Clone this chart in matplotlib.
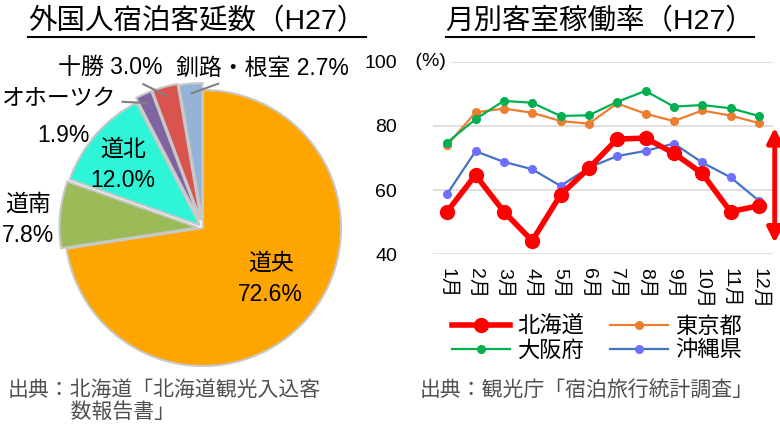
import matplotlib
matplotlib.use("Agg")
import matplotlib.pyplot as plt
from matplotlib.lines import Line2D
import numpy as np

plt.rcParams['font.family'] = ['Liberation Sans', 'Noto Sans CJK JP']

# ---- data ----
regions = ['道央', '道南', '道北', 'オホーツク', '十勝', '釧路・根室']
shares = [72.6, 7.8, 12.0, 1.9, 3.0, 2.7]
pie_colors = ['#FFA500', '#9BBB59', '#2EF5D8', '#8064A2', '#D9534F', '#95B3D7']

months = ['1月', '2月', '3月', '4月', '5月', '6月', '7月', '8月', '9月', '10月', '11月', '12月']
hokkaido = [53.3, 64.7, 53.3, 44.2, 58.5, 66.8, 75.9, 76.2, 71.5, 65.2, 53.3, 55.1]
tokyo = [74.0, 84.2, 85.4, 84.1, 81.5, 80.7, 87.0, 83.8, 81.5, 84.8, 83.2, 80.9]
osaka = [74.8, 82.1, 87.8, 87.2, 83.1, 83.3, 87.5, 90.9, 86.0, 86.5, 85.5, 83.1]
okinawa = [58.8, 72.1, 68.8, 66.5, 61.3, 67.0, 70.6, 72.2, 74.5, 68.6, 64.0, 56.7]
yticks = [40, 60, 80, 100]

W, H = 780, 424
fig = plt.figure(figsize=(W / 100, H / 100), dpi=100)

# ---- pie ----
cx, cy, R = 203, 228, 138
L = 1.087
side = 2 * L * R
axp = fig.add_axes([(cx - side / 2) / W, (H - cy - side / 2) / H, side / W, side / H])
explode = [0, 0.04, 0.03, 0.06, 0.06, 0.05]
wedges, _ = axp.pie(shares, colors=pie_colors, startangle=90, counterclock=False,
                    explode=explode, radius=1,
                    wedgeprops=dict(edgecolor='#C8C8C8', linewidth=1.5))
axp.set_xlim(-L, L)
axp.set_ylim(-L, L)
axp.set_aspect('equal')
axp.axis('off')

fs_pie = 16.5
axp.text(0.49, -0.37, '道央\n72.6%', ha='center', va='center', fontsize=fs_pie, linespacing=1.45)
axp.text(-0.58, 0.46, '道北\n12.0%', ha='center', va='center', fontsize=fs_pie, linespacing=1.45)
axp.text(-1.27, 0.06, '道南\n7.8%', ha='center', va='center', fontsize=fs_pie, linespacing=1.45,
         clip_on=False)
axp.text(-1.01, 0.67, '1.9%', ha='center', va='center', fontsize=fs_pie, clip_on=False)


def wedge_point(w, r):
    ang = np.deg2rad((w.theta1 + w.theta2) / 2)
    c = w.center
    return (c[0] + r * np.cos(ang), c[1] + r * np.sin(ang))


lbl_kw = dict(fontsize=fs_pie, va='center', annotation_clip=False,
              arrowprops=dict(arrowstyle='-', color='#808080', lw=1.5, shrinkA=3, shrinkB=0))
axp.annotate('オホーツク', xy=wedge_point(wedges[3], 0.93), xytext=(-1.05, 0.94), ha='center', **lbl_kw)
axp.annotate('十勝 3.0%', xy=wedge_point(wedges[4], 0.93), xytext=(-0.67, 1.16), ha='center', **lbl_kw)
axp.annotate('釧路・根室 2.7%', xy=wedge_point(wedges[5], 0.93), xytext=(0.43, 1.16), ha='center', **lbl_kw)

# ---- line chart ----
x0, x1 = 433, 773
ytop, ybot = 61.7, 254.3
axl = fig.add_axes([x0 / W, (H - ybot) / H, (x1 - x0) / W, (ybot - ytop) / H])
x = np.arange(1, len(months) + 1)
axl.plot(x, tokyo, color='#ED7D31', lw=1.6, marker='o', ms=5.5, label='東京都', zorder=3)
axl.plot(x, osaka, color='#00B050', lw=1.6, marker='o', ms=5.5, label='大阪府', zorder=3)
axl.plot(x, okinawa, color='#4472C4', lw=1.6, marker='o', ms=5.5, mfc='#6F6FFF', mec='#6F6FFF',
         label='沖縄県', zorder=3)
axl.plot(x, hokkaido, color='#FF0000', lw=4, marker='o', ms=10, label='北海道', zorder=4)
axl.set_xlim(0.5, 12.5)
axl.set_ylim(40, 100)
axl.set_yticks(yticks)
axl.set_xticks(x)
axl.set_xticklabels(months, rotation=270, fontsize=14)
axl.set_yticklabels([str(v) for v in yticks], fontsize=14)
axl.tick_params(axis='y', length=0, pad=26)
axl.tick_params(axis='x', length=0, pad=10)
axl.grid(axis='y', color='#D9D9D9', lw=1.2)
axl.set_axisbelow(True)
for s in axl.spines.values():
    s.set_visible(False)
axl.text(-0.068, 100, ' (%) ', transform=axl.get_yaxis_transform(), ha='left', va='center',
         fontsize=14, family='Liberation Sans',
         bbox=dict(facecolor='white', edgecolor='none', pad=0))

axl.annotate('', xy=(1.005, 43.5), xytext=(1.005, 79.5), xycoords=axl.get_yaxis_transform(),
             textcoords=axl.get_yaxis_transform(), annotation_clip=False,
             arrowprops=dict(arrowstyle='<|-|>', color='#FF0000', lw=3.5, mutation_scale=22,
                             shrinkA=0, shrinkB=0))

h, l = axl.get_legend_handles_labels()
# column-first fill: col1 = 北海道, 大阪府 ; col2 = 東京都, 沖縄県
order = [3, 1, 0, 2]
fig.legend([h[i] for i in order], [l[i] for i in order], ncol=2, loc='center',
           bbox_to_anchor=(597 / W, 1 - 339 / H), frameon=False, fontsize=16,
           handlelength=2.6, handletextpad=0.3, columnspacing=1.2, labelspacing=0.12,
           borderpad=0)

# ---- titles ----
t1 = fig.text(197 / W, 1 - 22 / H, '外国人宿泊客延数（H27）', ha='center', va='center', fontsize=20.5)
t2 = fig.text(600 / W, 1 - 22 / H, '月別客室稼働率（H27）', ha='center', va='center', fontsize=20.5)

src_col = '#505050'
fig.text(8 / W, 1 - 401 / H, '出典：北海道「北海道観光入込客\n　　　数報告書」', ha='left', va='center',
         fontsize=15, color=src_col, linespacing=1.15)
fig.text(420 / W, 1 - 390 / H, '出典：観光庁「宿泊旅行統計調査」', ha='left', va='center',
         fontsize=15, color=src_col)

fig.canvas.draw()
r = fig.canvas.get_renderer()
for t in (t1, t2):
    bb = t.get_window_extent(r)
    yline = bb.y0 - 1
    fig.add_artist(Line2D([bb.x0 / W, bb.x1 / W], [yline / H, yline / H], color='black', lw=1.5,
                          transform=fig.transFigure))

fig.savefig('out.png', dpi=100)
